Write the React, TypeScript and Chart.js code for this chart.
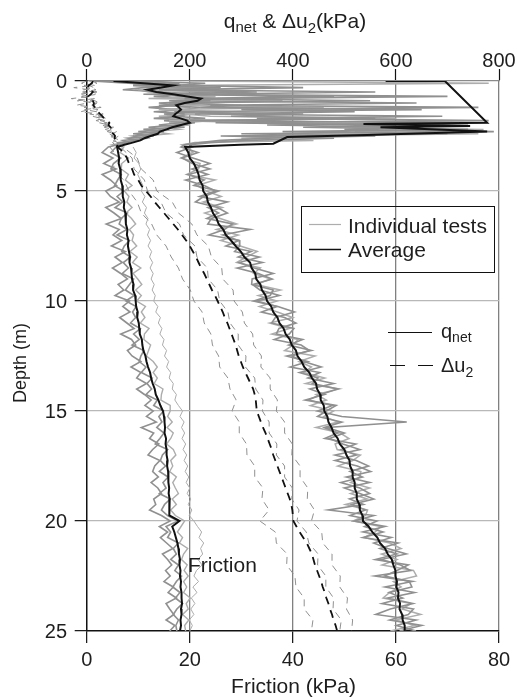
import { useEffect, useRef } from "react";
import { Chart, registerables } from "chart.js";
Chart.register(...registerables);

const FONT = '"Liberation Sans", Arial, Helvetica, sans-serif';

// ---------- axis ticks ----------
const depthTicks = [0, 5, 10, 15, 20, 25];
const qTicks = [0, 200, 400, 600, 800];
const fTicks = [0, 20, 40, 60, 80];

// ---------- depth sampling (m) ----------
const depthCrust = [0, 0.1, 0.2, 0.3, 0.4, 0.5, 0.6, 0.7, 0.8, 0.9, 1, 1.1, 1.2, 1.3, 1.4, 1.5, 1.6, 1.7, 1.8, 1.9, 2, 2.1, 2.2, 2.3, 2.4, 2.5, 2.6, 2.7, 2.8, 2.9];
const depthDeep = [3, 3.25, 3.5, 3.75, 4, 4.25, 4.5, 4.75, 5, 5.25, 5.5, 5.75, 6, 6.25, 6.5, 6.75, 7, 7.25, 7.5, 7.75, 8, 8.25, 8.5, 8.75, 9, 9.25, 9.5, 9.75, 10, 10.25, 10.5, 10.75, 11, 11.25, 11.5, 11.75, 12, 12.25, 12.5, 12.75, 13, 13.25, 13.5, 13.75, 14, 14.25, 14.5, 14.75, 15, 15.25, 15.5, 15.75, 16, 16.25, 16.5, 16.75, 17, 17.25, 17.5, 17.75, 18, 18.25, 18.5, 18.75, 19, 19.25, 19.5, 19.75, 20, 20.25, 20.5, 20.75, 21, 21.25, 21.5, 21.75, 22, 22.25, 22.5, 22.75, 23, 23.25, 23.5, 23.75, 24, 24.25, 24.5, 24.75, 25];
const depthHalf = [3, 3.5, 4, 4.5, 5, 5.5, 6, 6.5, 7, 7.5, 8, 8.5, 9, 9.5, 10, 10.5, 11, 11.5, 12, 12.5, 13, 13.5, 14, 14.5, 15, 15.5, 16, 16.5, 17, 17.5, 18, 18.5, 19, 19.5, 20, 20.5, 21, 21.5, 22, 22.5, 23, 23.5, 24, 24.5, 25];
const depthQnetAvgCrust = [0, 0, 1.9, 1.95, 2.05, 2.1, 2.3, 2.45, 2.55, 2.85, 2.9];

// ---------- q_net (kPa) ----------
const qnetAvgCrust = [580, 695, 777, 537, 744, 570, 777, 544, 389, 362, 298];
const qnetAvgDeep = [
  191, 197, 200, 208, 213, 217, 219, 225, 226, 233,
  235, 241, 245, 252, 256, 265, 270, 280, 289, 299,
  306, 317, 320, 327, 329, 337, 340, 347, 350, 358,
  362, 370, 374, 382, 386, 394, 398, 406, 409, 417,
  422, 432, 437, 445, 447, 453, 454, 460, 461, 467,
  469, 475, 479, 487, 491, 500, 504, 510, 511, 516,
  516, 520, 520, 524, 524, 529, 530, 535, 536, 547,
  554, 564, 569, 579, 584, 592, 595, 599, 599, 602,
  601, 605, 604, 608, 607, 612, 613, 617, 617];
const qnetT1Crust = [60, 230, 180, 420, 150, 560, 200, 700, 260, 180, 640, 240, 760, 300, 520, 210, 690, 330, 780, 250, 600, 420, 740, 380, 700, 260, 480, 310, 240, 200];
const qnetT2Crust = [120, 180, 90, 260, 140, 330, 110, 480, 190, 550, 160, 300, 220, 650, 170, 420, 280, 560, 200, 720, 350, 640, 500, 790, 300, 560, 350, 260, 220, 190];
const qnetT3Crust = [200, 780, 150, 230, 100, 300, 180, 250, 120, 380, 230, 180, 460, 140, 280, 190, 240, 600, 160, 330, 740, 470, 770, 520, 760, 410, 300, 440, 210, 185];
const qnetT1Deep = [
  205, 175, 206, 239, 204, 235, 192, 228, 250, 219,
  273, 235, 256, 233, 283, 267, 237, 296, 297, 287,
  335, 296, 325, 362, 321, 320, 362, 356, 324, 371,
  403, 366, 359, 402, 393, 364, 416, 432, 398, 421,
  455, 413, 449, 438, 487, 454, 430, 477, 448, 495,
  621, 466, 500, 471, 497, 530, 482, 523, 547, 511,
  535, 493, 530, 549, 510, 537, 469, 557, 519, 579,
  536, 591, 557, 584, 620, 571, 609, 628, 559, 632,
  579, 636, 584, 633, 589, 561, 639, 601, 639];
const qnetT2Deep = [
  183, 216, 185, 205, 239, 197, 228, 208, 256, 227,
  211, 254, 273, 242, 235, 317, 264, 295, 270, 319,
  294, 341, 292, 333, 360, 322, 336, 374, 330, 369,
  339, 384, 406, 373, 368, 419, 392, 436, 388, 429,
  395, 452, 429, 479, 433, 462, 424, 484, 465, 448,
  495, 461, 487, 462, 522, 494, 523, 482, 525, 551,
  504, 549, 500, 530, 557, 514, 541, 511, 563, 539,
  575, 536, 604, 569, 602, 560, 624, 602, 578, 626,
  631, 587, 613, 573, 634, 624, 588, 650, 607];
const qnetT3Deep = [
  196, 206, 183, 220, 217, 194, 249, 214, 232, 261,
  226, 263, 229, 259, 291, 252, 294, 260, 298, 331,
  310, 291, 337, 324, 357, 328, 376, 333, 369, 335,
  370, 400, 355, 393, 359, 410, 401, 384, 443, 412,
  436, 421, 462, 425, 490, 445, 465, 434, 479, 460,
  488, 445, 492, 509, 482, 486, 531, 516, 487, 532,
  530, 512, 549, 512, 544, 502, 545, 541, 517, 570,
  560, 538, 588, 610, 572, 602, 573, 634, 640, 595,
  610, 588, 575, 629, 612, 648, 599, 637, 589];

// ---------- Δu2 (kPa) ----------
const du2AvgCrust = [12, 10, 4, 2, 6, 12, 8, 3, 5, 12, 14, 13, 16, 20, 22, 26, 30, 34, 40, 44, 42, 46, 50, 47, 52, 55, 54, 57, 58, 59];
const du2AvgDeep = [
  60, 72, 78, 82, 88, 92, 100, 106, 115, 124,
  132, 141, 150, 159, 168, 177, 185, 193, 200, 206,
  212, 217, 222, 228, 233, 238, 243, 249, 254, 259,
  264, 268, 273, 277, 281, 285, 289, 292, 295, 299,
  303, 308, 313, 318, 323, 326, 328, 329, 330, 334,
  338, 342, 347, 351, 355, 359, 362, 366, 370, 374,
  378, 382, 386, 390, 394, 397, 399, 400, 401, 407,
  413, 420, 427, 432, 437, 440, 443, 447, 451, 455,
  458, 462, 465, 469, 472, 476, 479, 483, 486];
const du2T1Crust = [0, -10, 15, -25, 5, 20, -15, 8, -30, 12, 2, -20, 18, 5, -12, 25, 10, 30, 18, 40, 28, 45, 36, 50, 44, 52, 48, 56, 50, 55];
const du2T2Crust = [5, 12, -5, 8, 18, -8, 10, 2, 15, -18, 20, 8, -5, 22, 15, 6, 28, 16, 35, 25, 42, 34, 48, 40, 55, 47, 58, 52, 60, 62];
const du2T3Crust = [10, 20, 4, 14, -6, 12, 22, -10, 6, 16, 24, 10, 28, -4, 20, 32, 18, 38, 26, 44, 36, 52, 45, 58, 50, 62, 55, 64, 60, 66];
const du2T1Deep = [45, 62, 50, 72, 82, 98, 106, 126, 136, 154, 164, 178, 186, 201, 208, 224, 228, 241, 244, 256, 258, 274, 278, 290, 282, 296, 296, 310, 311, 326, 326, 342, 340, 354, 336, 366, 368, 389, 388, 404, 406, 422, 422, 439, 436];
const du2T2Deep = [65, 88, 92, 112, 118, 144, 154, 180, 188, 210, 214, 234, 236, 254, 258, 274, 278, 294, 294, 309, 308, 326, 328, 342, 341, 354, 354, 369, 368, 384, 384, 399, 398, 412, 408, 426, 431, 449, 448, 464, 464, 479, 478, 494, 491];
const du2T3Deep = [70, 98, 106, 129, 136, 166, 178, 204, 214, 236, 242, 262, 264, 284, 286, 302, 306, 322, 324, 339, 338, 356, 356, 370, 368, 384, 384, 399, 398, 414, 414, 429, 428, 442, 436, 456, 458, 476, 476, 492, 491, 506, 504, 516, 514];

// ---------- Friction (kPa) ----------
const fricAvgCrust = [5.2, 11, 16.8, 14.5, 11.8, 13.5, 16.8, 19.5, 22.2, 21.5, 19, 17.4, 17.9, 18.3, 17.8, 17.2, 16.8, 18.2, 19.5, 20, 18.3, 16.6, 15.5, 14.2, 13.8, 12.4, 11.2, 10.4, 8.9, 7.3];
const fricAvgDeep = [
  5.9, 6.1, 6.3, 6.2, 6.5, 6.6, 6.6, 6.9, 7.0, 7.0,
  7.3, 7.2, 7.5, 7.6, 7.6, 7.9, 7.8, 8.1, 8.0, 8.2,
  8.4, 8.3, 8.6, 8.7, 8.8, 9.1, 9.0, 9.4, 9.5, 9.6,
  9.9, 9.8, 10.1, 10.2, 10.3, 10.7, 10.8, 11.0, 11.4, 11.6,
  11.9, 12.3, 12.5, 12.8, 13.2, 13.4, 13.9, 14.3, 14.8, 15.0,
  15.1, 15.2, 15.1, 15.4, 15.3, 15.5, 15.5, 15.7, 15.6, 15.8,
  15.8, 15.9, 16.0, 15.9, 16.1, 16.0, 16.0, 16.1, 18.0, 16.6,
  17.0, 17.3, 17.6, 17.8, 17.9, 18.1, 18.0, 18.2, 18.1, 18.3,
  18.2, 18.4, 18.4, 18.5, 18.3, 18.4, 18.2, 18.3, 18.1];
const fricT1Crust = [3, 14, 9, 20, 12, 24, 15, 18, 25, 16, 21, 14, 22, 19, 13, 20, 17, 23, 15, 21, 17, 12, 16, 10, 14, 9, 11, 7, 8, 6];
const fricT2Crust = [1, 8, 19, 11, 7, 15, 21, 13, 19, 24, 14, 18, 12, 17, 21, 15, 19, 13, 24, 18, 14, 19, 11, 15, 9, 13, 8, 10, 6, 6];
const fricT3Crust = [6, 12, 22, 16, 10, 12, 18, 23, 20, 17, 22, 16, 20, 15, 19, 22, 14, 18, 21, 16, 20, 15, 18, 13, 16, 11, 12, 9, 7, 5];
const fricT1Deep = [
  4.2, 3.0, 5.1, 3.3, 5.7, 3.0, 4.6, 5.8, 3.7, 4.6,
  6.3, 3.7, 5.3, 6.7, 3.8, 6.3, 5.1, 6.8, 4.8, 7.5,
  5.5, 6.9, 5.0, 6.6, 7.9, 6.1, 7.2, 5.5, 8.3, 7.0,
  8.4, 6.4, 7.8, 9.2, 6.6, 8.7, 9.5, 7.9, 8.8, 10.5,
  8.6, 10.5, 9.7, 11.6, 9.7, 11.2, 12.5, 11.3, 12.9, 11.6,
  13.5, 10.6, 13.0, 12.2, 14.0, 12.8, 11.9, 14.2, 13.2, 12.8,
  13.9, 12.5, 13.8, 14.5, 13.0, 13.4, 12.2, 14.5, 16.2, 14.1,
  15.7, 14.3, 15.5, 16.7, 14.7, 15.7, 16.5, 15.3, 16.2, 15.0,
  16.8, 15.8, 17.4, 15.4, 16.1, 16.9, 15.4, 17.1, 16.1];
const fricT2Deep = [
  5.7, 4.7, 6.6, 5.2, 4.7, 6.7, 6.0, 5.4, 7.2, 5.9,
  7.0, 5.5, 7.9, 6.7, 6.3, 7.8, 5.9, 8.3, 7.3, 6.8,
  8.5, 7.1, 8.1, 6.9, 9.1, 8.3, 7.5, 9.2, 7.6, 9.6,
  8.9, 9.5, 8.5, 10.4, 9.1, 10.2, 8.8, 11.1, 10.5, 10.2,
  11.5, 10.6, 12.7, 11.7, 12.6, 11.5, 13.7, 13.0, 14.9, 14.0,
  14.6, 13.6, 15.0, 14.2, 13.3, 15.7, 14.7, 14.3, 15.3, 14.1,
  15.8, 14.8, 15.4, 14.1, 16.2, 15.1, 14.5, 15.7, 17.7, 15.4,
  16.3, 15.7, 17.8, 16.8, 17.4, 16.3, 17.8, 17.1, 18.4, 17.4,
  16.7, 18.1, 17.2, 18.6, 17.5, 16.8, 17.8, 17.3, 17.5];
const fricT3Deep = [
  7.2, 6.5, 8.1, 6.8, 6.7, 8.1, 7.5, 8.8, 7.3, 8.2,
  7.8, 8.8, 7.6, 8.7, 9.5, 8.3, 9.1, 8.8, 9.7, 8.4,
  9.8, 8.9, 10.5, 9.0, 9.9, 10.7, 9.5, 10.6, 9.7, 11.4,
  10.6, 11.3, 10.4, 12.1, 11.2, 11.1, 12.4, 12.0, 11.6, 12.9,
  13.7, 12.9, 13.7, 13.1, 14.8, 14.5, 14.4, 16.2, 16.2, 15.7,
  16.6, 15.6, 16.8, 16.3, 15.5, 16.8, 17.3, 16.3, 16.7, 16.1,
  17.4, 16.7, 17.2, 17.8, 16.6, 17.4, 16.3, 17.2, 19.0, 18.3,
  17.6, 18.6, 18.0, 19.6, 18.8, 18.4, 19.5, 18.9, 19.7, 18.8,
  19.4, 18.8, 20.1, 19.3, 19.7, 18.6, 19.8, 19.0, 19.2];
const fricT4Deep = [
  9.0, 9.6, 9.2, 10.1, 10.5, 9.9, 10.4, 10.9, 10.6, 11.3,
  10.8, 11.6, 11.2, 11.9, 11.5, 12.2, 11.8, 12.4, 11.9, 12.6,
  12.2, 12.8, 12.3, 12.9, 12.5, 13.1, 12.7, 13.3, 13.0, 13.8,
  13.4, 14.3, 13.9, 14.6, 14.2, 15.0, 14.7, 15.5, 15.1, 15.9,
  15.5, 16.3, 16.0, 16.8, 16.6, 17.4, 17.1, 17.8, 18.6, 18.1,
  18.9, 18.4, 19.0, 18.5, 19.2, 18.7, 19.4, 18.9, 19.6, 19.1,
  19.8, 19.3, 20.0, 19.5, 20.2, 19.7, 20.4, 19.9, 20.8, 21.5,
  22.3, 21.8, 22.7, 22.1, 22.5, 21.6, 22.4, 21.3, 20.8, 21.7,
  20.6, 21.4, 20.3, 21.0, 20.2, 20.8, 19.9, 20.5, 20.0];

// ---------- helpers ----------
const pts = (depths: number[], vals: number[]) => depths.map((d, i) => ({ x: vals[i], y: d }));

const GRAY = "#909090";
const LIGHT = "#adadad";

function line(label: string, axis: string, data: any[], color: string, width: number, dash: number[] = [], clip: any = undefined) {
  const ds: any = {
    label, xAxisID: axis, yAxisID: "y", data, showLine: true, fill: false,
    borderColor: color, backgroundColor: color, borderWidth: width, borderDash: dash,
    pointRadius: 0, pointHoverRadius: 0, tension: 0,
  };
  if (clip !== undefined) ds.clip = clip;
  return ds;
}

function rich(ctx: CanvasRenderingContext2D, parts: { t: string; s: number; dy?: number }[], x: number, y: number, align: "left" | "center" = "left") {
  let total = 0;
  for (const p of parts) { ctx.font = `${p.s}px ${FONT}`; total += ctx.measureText(p.t).width; }
  let cx = align === "center" ? x - total / 2 : x;
  ctx.textAlign = "left";
  ctx.textBaseline = "alphabetic";
  for (const p of parts) {
    ctx.font = `${p.s}px ${FONT}`;
    ctx.fillText(p.t, cx, y + (p.dy || 0));
    cx += ctx.measureText(p.t).width;
  }
}

const textPlugin = {
  id: "texts",
  afterDraw(chart: any) {
    const ctx: CanvasRenderingContext2D = chart.ctx;
    const sx = chart.scales.x, sx2 = chart.scales.x2, sy = chart.scales.y;
    ctx.save();
    ctx.fillStyle = "#1e1e1e";
    ctx.font = `20px ${FONT}`;
    ctx.textAlign = "right";
    ctx.textBaseline = "middle";
    for (const v of depthTicks) ctx.fillText(String(v), 67, sy.getPixelForValue(v) + 1);
    ctx.textAlign = "center";
    ctx.textBaseline = "alphabetic";
    for (const v of qTicks) ctx.fillText(String(v), sx2.getPixelForValue(v), 67);
    for (const v of fTicks) ctx.fillText(String(v), sx.getPixelForValue(v), 665.5);

    // axis titles
    rich(ctx, [
      { t: "q", s: 21 }, { t: "net", s: 15, dy: 4 }, { t: " & Δu", s: 21 }, { t: "2", s: 15, dy: 5 }, { t: "(kPa)", s: 21 },
    ], 295, 28, "center");
    ctx.font = `21px ${FONT}`;
    ctx.textAlign = "center";
    ctx.fillText("Friction (kPa)", 293.5, 692.5);
    ctx.save();
    ctx.translate(26, 363);
    ctx.rotate(-Math.PI / 2);
    ctx.font = `18px ${FONT}`;
    ctx.fillText("Depth (m)", 0, 0);
    ctx.restore();

    // boxed legend
    ctx.strokeStyle = "#111";
    ctx.lineWidth = 1;
    ctx.strokeRect(301.5, 206.5, 193, 66);
    ctx.beginPath(); ctx.strokeStyle = LIGHT; ctx.lineWidth = 1.2; ctx.moveTo(309, 224.5); ctx.lineTo(341, 224.5); ctx.stroke();
    ctx.beginPath(); ctx.strokeStyle = "#111"; ctx.lineWidth = 1.5; ctx.moveTo(309, 249.5); ctx.lineTo(341, 249.5); ctx.stroke();
    ctx.textAlign = "left";
    ctx.font = `21px ${FONT}`;
    ctx.fillText("Individual tests", 348, 233);
    ctx.fillText("Average", 348, 257);

    // line-style legend
    ctx.beginPath(); ctx.strokeStyle = "#111"; ctx.lineWidth = 1.2; ctx.moveTo(388, 332.5); ctx.lineTo(432, 332.5); ctx.stroke();
    ctx.beginPath(); ctx.setLineDash([15, 13]); ctx.moveTo(390, 365.5); ctx.lineTo(433, 365.5); ctx.stroke();
    ctx.setLineDash([]);
    rich(ctx, [{ t: "q", s: 20 }, { t: "net", s: 14, dy: 4 }], 441, 338);
    rich(ctx, [{ t: "Δu", s: 20 }, { t: "2", s: 14, dy: 5 }], 441, 372);

    ctx.font = `21px ${FONT}`;
    ctx.fillText("Friction", 188, 571.5);
    ctx.restore();
  },
};

export default function App() {
  const ref = useRef<HTMLCanvasElement>(null);
  useEffect(() => {
    document.body.style.margin = "0";
    const canvas = ref.current!;
    const crustDeep = depthCrust.concat(depthDeep);
    const crustHalf = depthCrust.concat(depthHalf);
    const datasets = [
      // averages (first datasets are drawn last, i.e. on top)
      line("q_net average", "x2", pts(depthQnetAvgCrust.concat(depthDeep), qnetAvgCrust.concat(qnetAvgDeep)), "#111", 2),
      line("Δu2 average", "x2", pts(crustDeep, du2AvgCrust.concat(du2AvgDeep)), "#111", 1.8, [8, 6]),
      line("Friction average", "x", pts(crustDeep, fricAvgCrust.concat(fricAvgDeep)), "#111", 2),
      // individual tests
      line("q_net test 1", "x2", pts(crustDeep, qnetT1Crust.concat(qnetT1Deep)), GRAY, 1.6),
      line("q_net test 2", "x2", pts(crustDeep, qnetT2Crust.concat(qnetT2Deep)), GRAY, 1.6),
      line("q_net test 3", "x2", pts(crustDeep, qnetT3Crust.concat(qnetT3Deep)), LIGHT, 1.5),
      line("Δu2 test 1", "x2", pts(crustHalf, du2T1Crust.concat(du2T1Deep)), GRAY, 1, [7, 5], false),
      line("Δu2 test 2", "x2", pts(crustHalf, du2T2Crust.concat(du2T2Deep)), GRAY, 1, [7, 5], false),
      line("Δu2 test 3", "x2", pts(crustHalf, du2T3Crust.concat(du2T3Deep)), GRAY, 1, [7, 5], false),
      line("Friction test 1", "x", pts(crustDeep, fricT1Crust.concat(fricT1Deep)), GRAY, 1.6),
      line("Friction test 2", "x", pts(crustDeep, fricT2Crust.concat(fricT2Deep)), GRAY, 1.6),
      line("Friction test 3", "x", pts(crustDeep, fricT3Crust.concat(fricT3Deep)), LIGHT, 1.4),
      line("Friction test 4", "x", pts(depthDeep, fricT4Deep), LIGHT, 1),
    ];
    const chart = new Chart(canvas, {
      type: "scatter",
      data: { datasets },
      plugins: [textPlugin],
      options: {
        animation: false,
        responsive: false,
        devicePixelRatio: 1,
        layout: { padding: { left: 0, right: 18, top: 0, bottom: 0 } },
        plugins: { legend: { display: false }, tooltip: { enabled: false } },
        elements: { point: { radius: 0 } },
        scales: {
          x: {
            type: "linear", position: "bottom", min: 0, max: 80,
            ticks: { stepSize: 20, display: false },
            grid: {
              color: (c: any) => (c.tick && c.tick.value === 0 ? "rgba(0,0,0,0)" : "#808080"),
              lineWidth: 1.3, tickColor: "#111", tickLength: 12, tickWidth: 1.2,
            },
            border: { color: "#111", width: 1.5 },
            afterFit: (s: any) => { s.height = 67; },
          },
          x2: {
            type: "linear", position: "top", min: 0, max: 800,
            ticks: { stepSize: 200, display: false },
            grid: { drawOnChartArea: false, tickColor: "#111", tickLength: 12, tickWidth: 1.2 },
            border: { color: "#8a8a8a", width: 1.3 },
            afterFit: (s: any) => { s.height = 81; },
          },
          y: {
            type: "linear", reverse: true, min: 0, max: 25,
            ticks: { stepSize: 5, display: false },
            grid: {
              color: (c: any) => (c.tick && (c.tick.value === 25 || c.tick.value === 0) ? "rgba(0,0,0,0)" : "#b8b8b8"),
              lineWidth: 1.3, tickColor: "#111", tickLength: 12, tickWidth: 1.2,
            },
            border: { color: "#111", width: 1.5 },
            afterFit: (s: any) => { s.width = 86.7; },
          },
        },
      } as any,
    });
    return () => chart.destroy();
  }, []);
  return <canvas ref={ref} width={517} height={698} style={{ display: "block", width: 517, height: 698 }} />;
}
